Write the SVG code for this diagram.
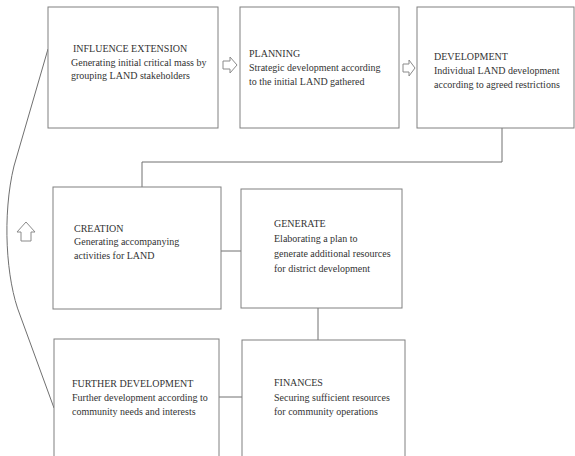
<svg xmlns="http://www.w3.org/2000/svg" width="575" height="456" viewBox="0 0 575 456">
<style>
.box{fill:#fff;stroke:#808080;stroke-width:1}
.t{font-family:"Liberation Serif","Times New Roman",serif;font-size:10px;fill:#333}
.c{fill:none;stroke:#707070;stroke-width:1}
.ar{fill:#fff;stroke:#8a8a8a;stroke-width:1}
</style>
<rect width="575" height="456" fill="#fff"/>
<g id="connectors">
<polyline class="c" points="502,128 502,162 142,162 142,187"/>
<line class="c" x1="221" y1="251" x2="241" y2="251"/>
<line class="c" x1="318" y1="308" x2="318" y2="340"/>
<line class="c" x1="219" y1="397" x2="242" y2="397"/>
<path class="c" d="M48,49 L14,166 C2,215 6,280 20,315 L54,408"/>
<polygon class="ar" points="223,61 230,61 230,57 237,65 230,73 230,69 223,69"/>
<polygon class="ar" points="403,64 409,64 409,60 415,68 409,76 409,72 403,72"/>
<polygon class="ar" points="21,241 21,232 17,232 26,222 35,232 31,232 31,241"/>
</g>
<g id="influence">
<rect class="box" x="48" y="7" width="170" height="121"/>
<text class="t" x="73" y="52">INFLUENCE EXTENSION</text>
<text class="t" x="71" y="66">Generating initial critical mass by</text>
<text class="t" x="71" y="79">grouping LAND stakeholders</text>
</g>
<g id="planning">
<rect class="box" x="240" y="7" width="159" height="121"/>
<text class="t" x="249" y="57">PLANNING</text>
<text class="t" x="249" y="71">Strategic development according</text>
<text class="t" x="249" y="85">to the initial LAND gathered</text>
</g>
<g id="development">
<rect class="box" x="417" y="7" width="157" height="121"/>
<text class="t" x="434" y="60">DEVELOPMENT</text>
<text class="t" x="434" y="74">Individual LAND development</text>
<text class="t" x="434" y="88">according to agreed restrictions</text>
</g>
<g id="creation">
<rect class="box" x="53" y="187" width="168" height="122"/>
<text class="t" x="74" y="232">CREATION</text>
<text class="t" x="74" y="245">Generating accompanying</text>
<text class="t" x="74" y="259">activities for LAND</text>
</g>
<g id="generate">
<rect class="box" x="241" y="189" width="161" height="119"/>
<text class="t" x="274" y="227">GENERATE</text>
<text class="t" x="274" y="242">Elaborating a plan to</text>
<text class="t" x="274" y="257">generate additional resources</text>
<text class="t" x="274" y="272">for district development</text>
</g>
<g id="further">
<rect class="box" x="54" y="339" width="165" height="130"/>
<text class="t" x="72" y="387">FURTHER DEVELOPMENT</text>
<text class="t" x="72" y="401">Further development according to</text>
<text class="t" x="72" y="415">community needs and interests</text>
</g>
<g id="finances">
<rect class="box" x="242" y="340" width="163" height="130"/>
<text class="t" x="274" y="386">FINANCES</text>
<text class="t" x="274" y="401">Securing sufficient resources</text>
<text class="t" x="274" y="415">for  community operations</text>
</g>
</svg>
